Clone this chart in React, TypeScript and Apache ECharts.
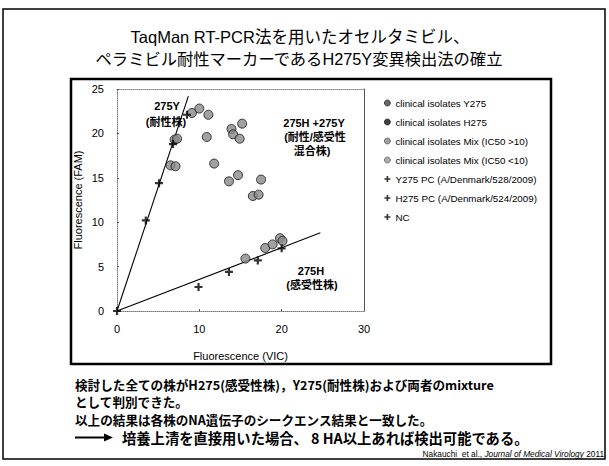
import React, { useEffect, useRef } from "react";
import * as echarts from "echarts";

// ---- data ----
const seriesNames = [
  "clinical isolates Y275",
  "clinical isolates H275",
  "clinical isolates Mix (IC50 >10)",
  "clinical isolates Mix (IC50 <10)",
  "Y275 PC (A/Denmark/528/2009)",
  "H275 PC (A/Denmark/524/2009)",
  "NC",
];
const y275Isolates = [[7.0, 19.3], [7.3, 19.4], [9.1, 22.3], [10.0, 22.8]];
const h275Isolates = [[15.6, 5.9], [18.0, 7.1], [18.9, 7.5], [19.8, 8.2], [20.1, 7.9]];
const mixHigh = [[6.5, 16.4], [7.1, 16.3], [11.1, 22.1], [10.9, 19.6], [13.9, 20.5], [14.1, 19.9], [15.2, 21.1], [14.9, 19.4]];
const mixLow = [[11.8, 16.6], [13.6, 14.6], [14.7, 15.3], [17.5, 14.8], [16.5, 12.95], [17.2, 13.1]];
const y275PC = [[3.5, 10.2], [5.1, 14.4], [6.8, 18.8], [8.5, 22.1]];
const h275PC = [[9.9, 2.7], [13.6, 4.4], [17.1, 5.7], [20.0, 7.06]];
const ncPoints = [[0, 0]];
const y275Trend = [[0, 0], [8.67, 24.2]];
const h275Trend = [[0, 0], [24.7, 8.8]];

const titleLines = [
  "TaqMan RT-PCR法を用いたオセルタミビル、",
  "ペラミビル耐性マーカーであるH275Y変異検出法の確立",
];
const bottomLines = [
  "検討した全ての株がH275(感受性株)，Y275(耐性株)および両者のmixture",
  "として判別できた。",
  "以上の結果は各株のNA遺伝子のシークエンス結果と一致した。",
];
const conclusion = "培養上清を直接用いた場合、 8 HA以上あれば検出可能である。";

const LATIN = "'Liberation Sans', Arial, 'Noto Sans CJK JP', sans-serif";
const CJK = "'Noto Sans CJK JP', 'Liberation Sans', sans-serif";
const PLUS = "path://M2.9,0H5.1V2.9H8V5.1H5.1V8H2.9V5.1H0V2.9H2.9Z";

export default function App() {
  const ref = useRef<HTMLDivElement>(null);
  useEffect(() => {
    if (!ref.current) return;
    const chart = echarts.init(ref.current, null, { renderer: "svg" });
    const circleStyle = { color: "#8a8a8a", borderColor: "#111", borderWidth: 1 };
    const scatter = (name: string, data: number[][]) => ({
      name, type: "scatter", data, symbol: "circle", symbolSize: 9,
      itemStyle: circleStyle, z: 3,
    });
    const plus = (name: string, data: number[][]) => ({
      name, type: "scatter", data, symbol: PLUS, symbolSize: 8,
      itemStyle: { color: "#000" }, z: 4,
    });
    const trend = (data: number[][]) => ({
      type: "line", data, symbol: "none", silent: true,
      lineStyle: { color: "#000", width: 1.1 }, z: 2,
    });
    const axisCommon = {
      type: "value",
      splitLine: { show: false },
      axisLine: { show: true, lineStyle: { color: "#777", type: "dotted", width: 1 } },
      axisTick: { show: true, inside: true, length: 2, lineStyle: { color: "#555" } },
      axisLabel: { color: "#000", fontSize: 11, fontFamily: LATIN },
      nameTextStyle: { color: "#000", fontSize: 11, fontFamily: LATIN },
    };
    const option: any = {
      animation: false,
      backgroundColor: "#fff",
      grid: { left: 117, top: 89, width: 247, height: 222 },
      xAxis: [
        { ...axisCommon, min: 0, max: 30, interval: 10, name: "Fluorescence (VIC)",
          nameLocation: "middle", nameGap: 39, axisLabel: { ...axisCommon.axisLabel, margin: 12 } },
        { type: "value", min: 0, max: 30, position: "top", axisLine: { show: true, onZero: false, lineStyle: { color: "#888", type: "dotted" } },
          axisTick: { show: false }, axisLabel: { show: false }, splitLine: { show: false } },
      ],
      yAxis: [
        { ...axisCommon, min: 0, max: 25, interval: 5, name: "Fluorescence (FAM)",
          nameLocation: "middle", nameGap: 34, axisLabel: { ...axisCommon.axisLabel, margin: 13 } },
        { type: "value", min: 0, max: 25, position: "right", axisLine: { show: true, onZero: false, lineStyle: { color: "#555", width: 1 } },
          axisTick: { show: false }, axisLabel: { show: false }, splitLine: { show: false } },
      ],
      legend: {
        orient: "vertical", left: 379, top: 92, itemWidth: 6, itemHeight: 6, itemGap: 7,
        textStyle: { fontSize: 9.8, fontFamily: LATIN, color: "#000", lineHeight: 12 },
        data: [
          { name: seriesNames[0], icon: "circle", itemStyle: { color: "#444", borderColor: "#000", borderWidth: 0.8 } },
          { name: seriesNames[1], icon: "circle", itemStyle: { color: "#111", borderColor: "#000", borderWidth: 0.8 } },
          { name: seriesNames[2], icon: "circle", itemStyle: { color: "#888", borderColor: "#333", borderWidth: 0.8 } },
          { name: seriesNames[3], icon: "circle", itemStyle: { color: "#999", borderColor: "#444", borderWidth: 0.8 } },
          { name: seriesNames[4], icon: PLUS, itemWidth: 7, itemHeight: 7 },
          { name: seriesNames[5], icon: PLUS, itemWidth: 7, itemHeight: 7 },
          { name: seriesNames[6], icon: PLUS, itemWidth: 7, itemHeight: 7 },
        ],
      },
      series: [
        trend(y275Trend),
        trend(h275Trend),
        scatter(seriesNames[0], y275Isolates),
        scatter(seriesNames[1], h275Isolates),
        scatter(seriesNames[2], mixHigh),
        scatter(seriesNames[3], mixLow),
        plus(seriesNames[4], y275PC),
        plus(seriesNames[5], h275PC),
        plus(seriesNames[6], ncPoints),
      ],
      graphic: [
        { type: "rect", shape: { x: 3, y: 9, width: 602, height: 450 }, style: { fill: "none", stroke: "#000", lineWidth: 1.5 }, z: -10 },
        { type: "rect", shape: { x: 71, y: 79, width: 480, height: 285 }, style: { fill: "none", stroke: "#000", lineWidth: 2.5 }, z: -10 },
        { type: "text", x: 300, y: 37, style: { text: titleLines[0], font: `16.5px ${LATIN}`, fill: "#000", textAlign: "center", textVerticalAlign: "middle" } },
        { type: "text", x: 299, y: 59, style: { text: titleLines[1], font: `16.3px ${LATIN}`, fill: "#000", textAlign: "center", textVerticalAlign: "middle" } },
        { type: "text", x: 167, y: 106, style: { text: "275Y", font: `bold 11px ${LATIN}`, fill: "#000", textAlign: "center", textVerticalAlign: "middle" } },
        { type: "text", x: 166, y: 122, style: { text: "(耐性株)", font: `bold 11px ${LATIN}`, fill: "#000", textAlign: "center", textVerticalAlign: "middle" } },
        { type: "text", x: 314, y: 123, style: { text: "275H +275Y", font: `bold 11px ${LATIN}`, fill: "#000", textAlign: "center", textVerticalAlign: "middle" } },
        { type: "text", x: 315, y: 137, style: { text: "(耐性/感受性", font: `bold 11px ${LATIN}`, fill: "#000", textAlign: "center", textVerticalAlign: "middle" } },
        { type: "text", x: 312, y: 151, style: { text: "混合株)", font: `bold 11px ${LATIN}`, fill: "#000", textAlign: "center", textVerticalAlign: "middle" } },
        { type: "text", x: 311, y: 271, style: { text: "275H", font: `bold 11px ${LATIN}`, fill: "#000", textAlign: "center", textVerticalAlign: "middle" } },
        { type: "text", x: 312, y: 285, style: { text: "(感受性株)", font: `bold 11px ${LATIN}`, fill: "#000", textAlign: "center", textVerticalAlign: "middle" } },
        ...bottomLines.map((t, i) => ({
          type: "text", x: 75, y: 384 + i * 17.5,
          style: { text: t, font: `bold 12.6px ${CJK}`, fill: "#000", textAlign: "left", textVerticalAlign: "middle" },
        })),
        { type: "line", shape: { x1: 75, y1: 437.5, x2: 106, y2: 437.5 }, style: { stroke: "#000", lineWidth: 2 } },
        { type: "polygon", shape: { points: [[104, 433.5], [113, 437.5], [104, 441.5]] }, style: { fill: "#000" } },
        { type: "text", x: 122, y: 437.5, style: { text: conclusion, font: `bold 14.3px ${CJK}`, fill: "#000", textAlign: "left", textVerticalAlign: "middle" } },
        { type: "text", x: 604, y: 453.5, style: {
          text: "{a|Nakauchi  et al., }{b|Journal of Medical Virology}{a| 2011}",
          textAlign: "right", textVerticalAlign: "middle",
          rich: {
            a: { fontSize: 8.3, fontFamily: LATIN, fill: "#000", lineHeight: 9 },
            b: { fontSize: 8.3, fontFamily: LATIN, fontStyle: "italic", fill: "#000", lineHeight: 9 },
          },
        } },
      ],
    };
    chart.setOption(option);
    return () => chart.dispose();
  }, []);
  return <div ref={ref} style={{ position: "absolute", left: 0, top: 0, width: 609, height: 466 }} />;
}
